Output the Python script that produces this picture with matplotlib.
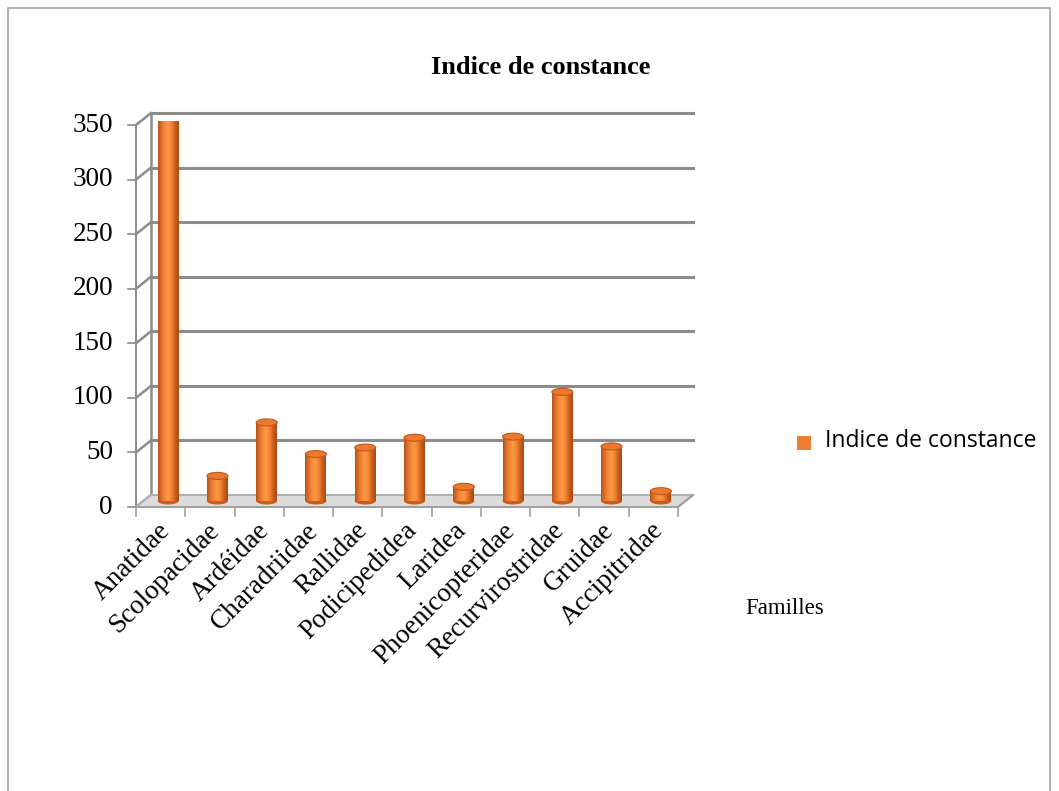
import matplotlib.pyplot as plt
import numpy as np
from matplotlib.patches import Rectangle, Ellipse, Polygon
from matplotlib.colors import LinearSegmentedColormap

# data
familles = ['Anatidae', 'Scolopacidae', 'Ardéidae', 'Charadriidae', 'Rallidae',
            'Podicipedidea', 'Laridea', 'Phoenicopteridae', 'Recurvirostridae',
            'Gruidae', 'Accipitridae']
indice = [348, 23, 72, 43, 49, 58, 13, 59, 100, 50, 9]
yticks = [0, 50, 100, 150, 200, 250, 300, 350]

W, H = 1059, 791
fig = plt.figure(figsize=(W / 100, H / 100), dpi=100)

# outer chart border
fig.add_artist(Rectangle((8 / W, -0.01), 1042 / W, (H - 8) / H + 0.01,
                         transform=fig.transFigure, fill=False,
                         edgecolor='#a6a6a6', linewidth=1.2))

# front plane of the 3D box: x 136..678 px, y 507..125 px (from top)
ax = fig.add_axes([136 / W, (H - 507) / H, 542 / W, 382 / H])
n = len(familles)
ax.set_xlim(0, n)
ax.set_ylim(0, 350)
ax.axis('off')

px_x = n / 542.0
px_y = 350 / 382.0
dx, dy = 15 * px_x, 12 * px_y   # depth offset of the back wall

grid_c = '#8c8c8c'
# floor
floor = Polygon([(0, 0), (n, 0), (n + dx, dy), (dx, dy)], closed=True,
                facecolor='#dcdcdc', edgecolor='#b0b0b0', lw=1.5, clip_on=False, zorder=1)
ax.add_patch(floor)
# back wall gridlines and left wall stubs
for v in yticks:
    if v > 0:
        ax.plot([dx, n + dx], [v + dy, v + dy], color=grid_c, lw=2.2, clip_on=False, zorder=0.5)
    ax.plot([0, dx], [v, v + dy], color=grid_c, lw=1.8, clip_on=False, zorder=0.6)
    ax.plot([-8 * px_x, 0], [v, v], color=grid_c, lw=1.2, clip_on=False)
ax.plot([dx, dx], [dy, 350 + dy], color=grid_c, lw=1.8, clip_on=False, zorder=0.6)
ax.plot([0, 0], [0, 350], color=grid_c, lw=1.4, clip_on=False, zorder=0.7)
ax.plot([0, n], [0, 0], color='#a0a0a0', lw=1.4, clip_on=False, zorder=1.1)
ax.plot([n, n + dx], [0, dy], color='#a0a0a0', lw=1.4, clip_on=False, zorder=1.1)
for i in range(n + 1):
    ax.plot([i, i], [0, -9 * px_y], color='#a0a0a0', lw=1.2, clip_on=False)

# y tick labels
for v in yticks:
    ax.text(-23 * px_x, v, str(v), ha='right', va='center', fontsize=19.5,
            family='Liberation Serif')

# cylinder bars
cmap = LinearSegmentedColormap.from_list(
    'cyl', ['#b4521a', '#e0702a', '#f88a38', '#fb9a4a', '#f08030', '#c85e1e', '#a84a14'])
grad = np.linspace(0, 1, 64).reshape(1, -1)
bw = 21 * px_x
eh = 7 * px_y
for i, v in enumerate(indice):
    cx = i + 0.5 + 15 * px_x / 2
    base = dy / 2
    rect = Rectangle((cx - bw / 2, base), bw, v, facecolor='none', edgecolor='none')
    ax.add_patch(rect)
    im = ax.imshow(grad, cmap=cmap, aspect='auto', extent=(cx - bw / 2, cx + bw / 2, base, base + v),
                   zorder=2, interpolation='bicubic')
    im.set_clip_path(rect)
    ax.add_patch(Ellipse((cx, base), bw, eh, facecolor='#c85e1e', edgecolor='none', zorder=1.9))
    ax.add_patch(Ellipse((cx, base + v), bw, eh, facecolor='#ec7a2e',
                         edgecolor='#c0581c', lw=0.8, zorder=2.1))
ax.set_xlim(0, n)
ax.set_ylim(0, 350)

# category labels
for i, name in enumerate(familles):
    ax.annotate(name, xy=(i + 0.5, 0), xytext=(-3, -11), textcoords='offset pixels',
                rotation=45, ha='right', va='top', rotation_mode='anchor',
                fontsize=19.5, family='Liberation Serif')

fig.text(541 / W, 1 - 68 / H, 'Indice de constance', ha='center', va='center',
         fontsize=19, fontweight='bold', family='Liberation Serif')
fig.text(745 / W, 1 - 608 / H, 'Familles', ha='left', va='center',
         fontsize=16.5, family='Liberation Serif')

# legend
fig.add_artist(Rectangle((797 / W, 1 - 450 / H), 14 / W, 14 / H, transform=fig.transFigure,
                         facecolor='#ed7d31', edgecolor='none'))
fig.text(825 / W, 1 - 441 / H, 'Indice de constance', ha='left', va='center',
         fontsize=16.5, family='Open Sans')

fig.savefig('out.png', dpi=100)
